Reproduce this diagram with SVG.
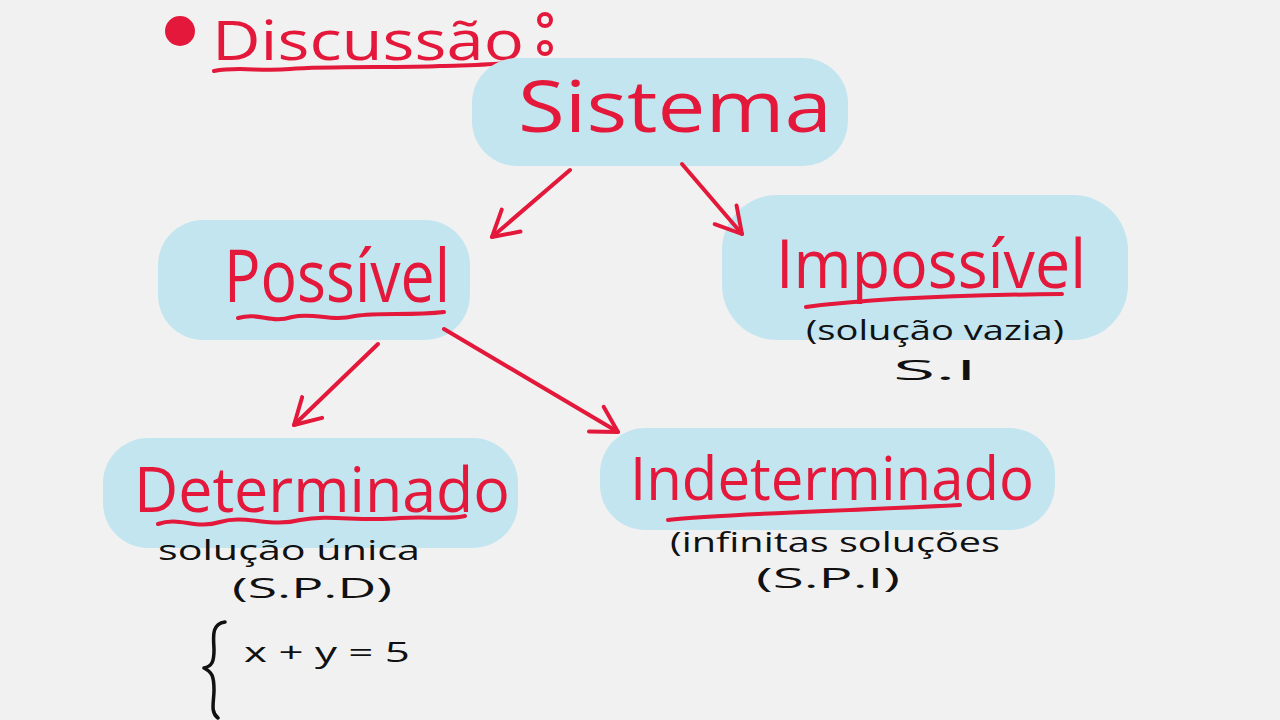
<svg xmlns="http://www.w3.org/2000/svg" width="1280" height="720" viewBox="0 0 1280 720">
<defs>
<style>
.blob{fill:#c3e5f0;}
.lbl{font-family:"Open Sans","Liberation Sans",sans-serif;fill:#e3183a;}
.note{font-family:"Open Sans","Liberation Sans",sans-serif;fill:#111;font-size:28px;}
.red{fill:none;stroke:#e3183a;stroke-width:4;stroke-linecap:round;stroke-linejoin:round;}
.blk{fill:none;stroke:#111;stroke-width:3.5;stroke-linecap:round;stroke-linejoin:round;}
</style>
<marker id="ah" viewBox="0 0 20 20" refX="16" refY="10" markerWidth="9" markerHeight="9" markerUnits="strokeWidth" orient="auto">
<path d="M2,2 L16,10 L2,18" fill="none" stroke="#e3183a" stroke-width="2.2" stroke-linecap="round" stroke-linejoin="round"/>
</marker>
</defs>
<rect width="1280" height="720" fill="#f2f1f1"/>

<g id="title">
<circle cx="180" cy="31" r="15" fill="#e3183a"/>
<text class="lbl" x="212" y="60" font-size="54" textLength="312" lengthAdjust="spacingAndGlyphs">Discussão</text>
<circle cx="545" cy="20" r="6" class="red"/>
<circle cx="545" cy="48" r="6" class="red"/>
<path class="red" d="M214,71 C240,66 260,72 290,69 C330,66 400,68 440,66 C470,65 490,65 505,63"/>
</g>

<g id="sistema">
<rect class="blob" x="472" y="58" width="376" height="108" rx="45"/>
<text class="lbl" x="518" y="132" font-size="72" textLength="314" lengthAdjust="spacingAndGlyphs">Sistema</text>
</g>

<g id="possivel">
<rect class="blob" x="158" y="220" width="312" height="120" rx="45"/>
<text class="lbl" x="224" y="302" font-size="74" textLength="226" lengthAdjust="spacingAndGlyphs">Possível</text>
<path class="red" d="M238,318 C260,312 270,324 292,317 C315,312 330,322 355,316 C380,312 410,316 444,312"/>
</g>

<g id="impossivel">
<rect class="blob" x="722" y="195" width="406" height="145" rx="55"/>
<text class="lbl" x="776" y="288" font-size="68" textLength="310" lengthAdjust="spacingAndGlyphs">Impossível</text>
<path class="red" d="M806,307 C860,300 950,295 1062,294"/>
<text class="note" x="806" y="340" textLength="258" lengthAdjust="spacingAndGlyphs">(solução vazia)</text>
<text class="note" x="893" y="380" font-size="34" textLength="84" lengthAdjust="spacingAndGlyphs">S.I</text>
</g>

<g id="determinado">
<rect class="blob" x="103" y="438" width="415" height="110" rx="45"/>
<text class="lbl" x="134" y="512" font-size="62" textLength="376" lengthAdjust="spacingAndGlyphs">Determinado</text>
<path class="red" d="M158,524 C180,516 195,530 220,522 C245,514 270,528 300,520 C330,514 360,522 400,518 C430,516 450,520 465,516"/>
<text class="note" x="158" y="560" textLength="262" lengthAdjust="spacingAndGlyphs">solução única</text>
<text class="note" x="232" y="598" font-size="34" textLength="160" lengthAdjust="spacingAndGlyphs">(S.P.D)</text>
<path class="blk" d="M225,622 C210,624 214,640 214,650 C214,662 212,666 204,668 C212,672 214,676 214,690 C214,702 210,712 218,718"/>
<text class="note" x="244" y="662" font-size="38" textLength="166" lengthAdjust="spacingAndGlyphs">x + y = 5</text>
</g>

<g id="indeterminado">
<rect class="blob" x="600" y="428" width="455" height="102" rx="45"/>
<text class="lbl" x="630" y="500" font-size="60" textLength="404" lengthAdjust="spacingAndGlyphs">Indeterminado</text>
<path class="red" d="M668,520 C720,514 820,512 960,505"/>
<text class="note" x="670" y="552" font-size="26" textLength="330" lengthAdjust="spacingAndGlyphs">(infinitas soluções</text>
<text class="note" x="756" y="588" font-size="34" textLength="144" lengthAdjust="spacingAndGlyphs">(S.P.I)</text>
</g>

<g id="connectors">
<path class="red" d="M570,170 L492,237" marker-end="url(#ah)"/>
<path class="red" d="M682,164 L742,234" marker-end="url(#ah)"/>
<path class="red" d="M378,344 L294,425" marker-end="url(#ah)"/>
<path class="red" d="M444,329 L618,432" marker-end="url(#ah)"/>
</g>
</svg>
